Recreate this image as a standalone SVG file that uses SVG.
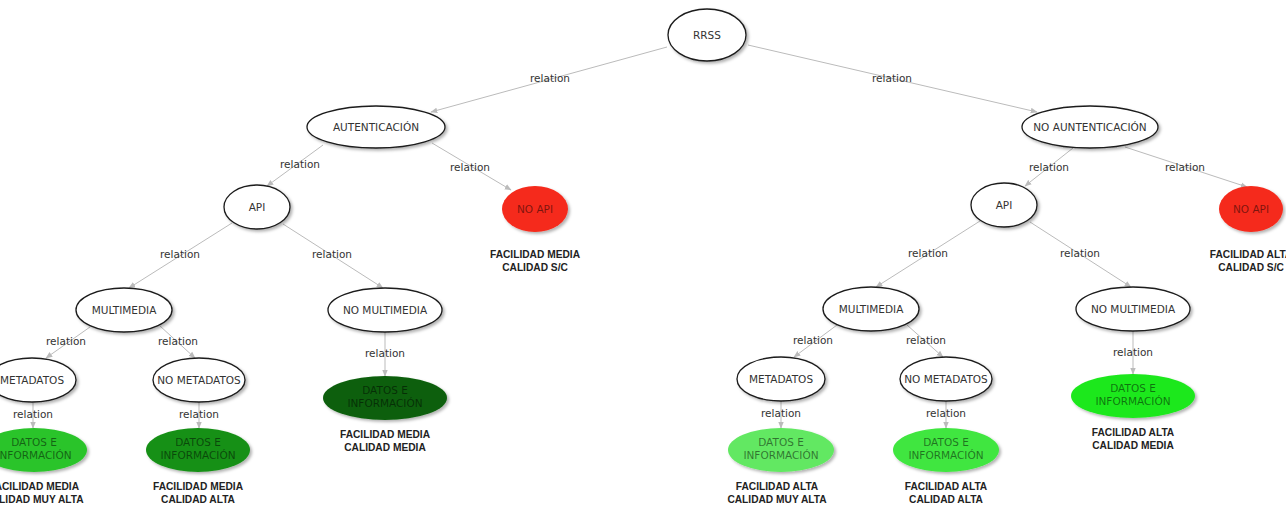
<svg xmlns="http://www.w3.org/2000/svg" width="1286" height="507" viewBox="0 0 1286 507">
<style>
.n{fill:#fff;stroke:#1a1a1a;stroke-width:1.3}
.t{font-family:"DejaVu Sans",Verdana,sans-serif;font-size:10.5px;fill:#333;text-anchor:middle}
.tf{font-family:"DejaVu Sans",Verdana,sans-serif;font-size:10.5px;fill:#000;fill-opacity:0.5;text-anchor:middle}
.r{font-family:"DejaVu Sans",Verdana,sans-serif;font-size:10.5px;fill:#333;text-anchor:middle}
.b{font-family:"Liberation Sans",Arial,sans-serif;font-size:10.2px;font-weight:bold;fill:#222;text-anchor:middle}
.c line{stroke:#bbb;stroke-width:1;marker-end:url(#ah)}
</style>
<defs>
<marker id="ah" viewBox="0 0 10 10" refX="9" refY="5" markerWidth="7" markerHeight="7" orient="auto" markerUnits="userSpaceOnUse">
<path d="M0,1 L10,5 L0,9 z" fill="#bbb"/>
</marker>
<filter id="sh" x="-20%" y="-20%" width="150%" height="160%">
<feDropShadow dx="2" dy="2" stdDeviation="1.5" flood-color="#000" flood-opacity="0.3"/>
</filter>
</defs>
<rect width="1286" height="507" fill="#fff"/>
<g class="c" id="connectors">
<line x1="667" y1="47" x2="431" y2="112"/>
<line x1="748" y1="45" x2="1037" y2="112"/>
<line x1="323" y1="145" x2="267" y2="186"/>
<line x1="432" y1="143" x2="511" y2="190"/>
<line x1="1073" y1="148" x2="1025" y2="186"/>
<line x1="1125" y1="147" x2="1247" y2="187"/>
<line x1="232" y1="223" x2="129" y2="288"/>
<line x1="283" y1="224" x2="383" y2="288"/>
<line x1="980" y1="221" x2="876" y2="287"/>
<line x1="1030" y1="222" x2="1131" y2="287"/>
<line x1="90" y1="327" x2="46" y2="358"/>
<line x1="160" y1="326" x2="195" y2="358"/>
<line x1="385" y1="332" x2="385" y2="376"/>
<line x1="837" y1="325" x2="794" y2="357"/>
<line x1="907" y1="325" x2="943" y2="357"/>
<line x1="1133" y1="331" x2="1133" y2="374"/>
<line x1="33" y1="402" x2="33" y2="428"/>
<line x1="199" y1="402" x2="199" y2="428"/>
<line x1="781" y1="401" x2="781" y2="428"/>
<line x1="946" y1="401" x2="946" y2="428"/>
</g>
<g id="labels">
<text class="r" x="550" y="82">relation</text>
<text class="r" x="892" y="82">relation</text>
<text class="r" x="300" y="168">relation</text>
<text class="r" x="470" y="171">relation</text>
<text class="r" x="1049" y="171">relation</text>
<text class="r" x="1185" y="171">relation</text>
<text class="r" x="180" y="258">relation</text>
<text class="r" x="332" y="258">relation</text>
<text class="r" x="928" y="257">relation</text>
<text class="r" x="1080" y="257">relation</text>
<text class="r" x="66" y="345">relation</text>
<text class="r" x="178" y="345">relation</text>
<text class="r" x="385" y="357">relation</text>
<text class="r" x="813" y="344">relation</text>
<text class="r" x="926" y="344">relation</text>
<text class="r" x="1133" y="356">relation</text>
<text class="r" x="33" y="418">relation</text>
<text class="r" x="199" y="418">relation</text>
<text class="r" x="781" y="417">relation</text>
<text class="r" x="946" y="417">relation</text>
</g>
<g id="rrss"><ellipse class="n" filter="url(#sh)" cx="707" cy="35" rx="39" ry="26"/><text class="t" x="707" y="39">RRSS</text></g>
<g id="aut"><ellipse class="n" filter="url(#sh)" cx="376" cy="127" rx="69" ry="21"/><text class="t" x="376" y="131">AUTENTICACIÓN</text></g>
<g id="noaut"><ellipse class="n" filter="url(#sh)" cx="1090" cy="127" rx="68" ry="21"/><text class="t" x="1090" y="131">NO AUNTENTICACIÓN</text></g>
<g id="api-l"><ellipse class="n" filter="url(#sh)" cx="257" cy="207" rx="33" ry="22"/><text class="t" x="257" y="211">API</text></g>
<g id="noapi-l"><ellipse fill="#f52a1c" filter="url(#sh)" cx="535" cy="209" rx="33" ry="23"/><text class="tf" x="535" y="213">NO API</text>
<text class="b" x="535" y="258">FACILIDAD MEDIA</text><text class="b" x="535" y="271">CALIDAD S/C</text></g>
<g id="api-r"><ellipse class="n" filter="url(#sh)" cx="1004" cy="205" rx="33" ry="22"/><text class="t" x="1004" y="209">API</text></g>
<g id="noapi-r"><ellipse fill="#f52a1c" filter="url(#sh)" cx="1251" cy="209" rx="32" ry="23"/><text class="tf" x="1251" y="213">NO API</text>
<text class="b" x="1251" y="258">FACILIDAD ALTA</text><text class="b" x="1251" y="271">CALIDAD S/C</text></g>
<g id="mm-l"><ellipse class="n" filter="url(#sh)" cx="124" cy="310" rx="48" ry="22"/><text class="t" x="124" y="314">MULTIMEDIA</text></g>
<g id="nomm-l"><ellipse class="n" filter="url(#sh)" cx="385" cy="310" rx="57" ry="22"/><text class="t" x="385" y="314">NO MULTIMEDIA</text></g>
<g id="mm-r"><ellipse class="n" filter="url(#sh)" cx="871" cy="309" rx="48" ry="22"/><text class="t" x="871" y="313">MULTIMEDIA</text></g>
<g id="nomm-r"><ellipse class="n" filter="url(#sh)" cx="1133" cy="309" rx="57" ry="22"/><text class="t" x="1133" y="313">NO MULTIMEDIA</text></g>
<g id="meta-l"><ellipse class="n" filter="url(#sh)" cx="32" cy="380" rx="44" ry="22"/><text class="t" x="32" y="384">METADATOS</text></g>
<g id="nometa-l"><ellipse class="n" filter="url(#sh)" cx="199" cy="380" rx="46" ry="22"/><text class="t" x="199" y="384">NO METADATOS</text></g>
<g id="meta-r"><ellipse class="n" filter="url(#sh)" cx="781" cy="379" rx="44" ry="22"/><text class="t" x="781" y="383">METADATOS</text></g>
<g id="nometa-r"><ellipse class="n" filter="url(#sh)" cx="946" cy="379" rx="46" ry="22"/><text class="t" x="946" y="383">NO METADATOS</text></g>
<g id="datos-l1"><ellipse fill="#2bc42b" filter="url(#sh)" cx="34" cy="450" rx="53" ry="22"/><text class="tf" x="34" y="446">DATOS E</text><text class="tf" x="34" y="459">INFORMACIÓN</text>
<text class="b" x="34" y="490">FACILIDAD MEDIA</text><text class="b" x="34" y="503">CALIDAD MUY ALTA</text></g>
<g id="datos-l2"><ellipse fill="#189018" filter="url(#sh)" cx="198" cy="450" rx="52" ry="22"/><text class="tf" x="198" y="446">DATOS E</text><text class="tf" x="198" y="459">INFORMACIÓN</text>
<text class="b" x="198" y="490">FACILIDAD MEDIA</text><text class="b" x="198" y="503">CALIDAD ALTA</text></g>
<g id="datos-l3"><ellipse fill="#0b5f0b" filter="url(#sh)" cx="385" cy="398" rx="62" ry="22"/><text class="tf" x="385" y="394">DATOS E</text><text class="tf" x="385" y="407">INFORMACIÓN</text>
<text class="b" x="385" y="438">FACILIDAD MEDIA</text><text class="b" x="385" y="451">CALIDAD MEDIA</text></g>
<g id="datos-r1"><ellipse fill="#62e862" filter="url(#sh)" cx="781" cy="450" rx="53" ry="22"/><text class="tf" x="781" y="446">DATOS E</text><text class="tf" x="781" y="459">INFORMACIÓN</text>
<text class="b" x="777" y="490">FACILIDAD ALTA</text><text class="b" x="777" y="503">CALIDAD MUY ALTA</text></g>
<g id="datos-r2"><ellipse fill="#3fe63f" filter="url(#sh)" cx="946" cy="450" rx="53" ry="22"/><text class="tf" x="946" y="446">DATOS E</text><text class="tf" x="946" y="459">INFORMACIÓN</text>
<text class="b" x="946" y="490">FACILIDAD ALTA</text><text class="b" x="946" y="503">CALIDAD ALTA</text></g>
<g id="datos-r3"><ellipse fill="#1ee81e" filter="url(#sh)" cx="1133" cy="396" rx="62" ry="22"/><text class="tf" x="1133" y="392">DATOS E</text><text class="tf" x="1133" y="405">INFORMACIÓN</text>
<text class="b" x="1133" y="436">FACILIDAD ALTA</text><text class="b" x="1133" y="449">CALIDAD MEDIA</text></g>
</svg>
